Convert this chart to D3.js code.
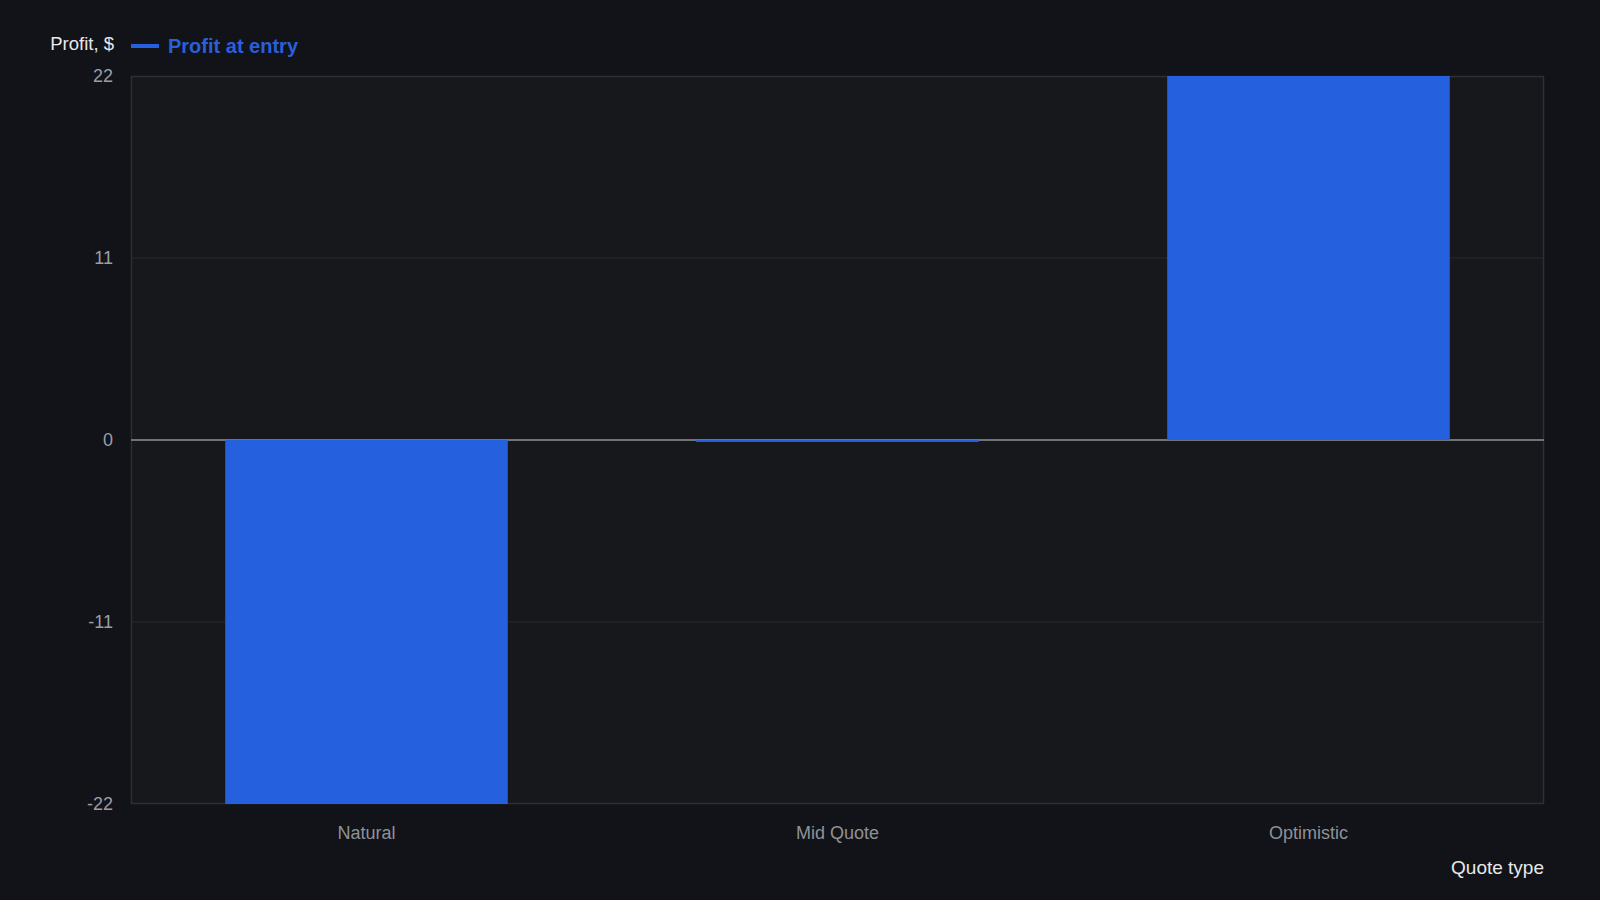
<!DOCTYPE html>
<html>
<head>
<meta charset="utf-8">
<script src="https://cdn.jsdelivr.net/npm/d3@7"></script>
<style>
  html, body { margin: 0; padding: 0; background: #111318; }
  svg { display: block; }
  text { font-family: "Liberation Sans", Arial, sans-serif; }
</style>
</head>
<body>
<svg id="chart" width="1600" height="900"></svg>
<script>
const categories = ["Natural", "Mid Quote", "Optimistic"];
const profitValues = [-22, -0.12, 22];
const yTickValues = [-22, -11, 0, 11, 22];
const seriesName = "Profit at entry";
const yAxisTitle = "Profit, $";
const xAxisTitle = "Quote type";

const W = 1600, H = 900;
const margin = { left: 131, right: 56, top: 76, bottom: 96 };
const svg = d3.select("#chart");

svg.append("rect").attr("width", W).attr("height", H).attr("fill", "#111318");

const x = d3.scaleBand()
  .domain(categories)
  .range([margin.left, W - margin.right])
  .paddingInner(0.4)
  .paddingOuter(0.2);

const y = d3.scaleLinear()
  .domain([-22, 22])
  .range([H - margin.bottom, margin.top]);

// plot background
svg.append("rect")
  .attr("x", margin.left).attr("y", margin.top)
  .attr("width", W - margin.left - margin.right)
  .attr("height", H - margin.top - margin.bottom)
  .attr("fill", "#17181c");

// gridlines
svg.append("g").selectAll("line")
  .data(yTickValues.filter(d => d !== 0 && Math.abs(d) !== 22))
  .join("line")
  .attr("x1", margin.left).attr("x2", W - margin.right)
  .attr("y1", d => y(d)).attr("y2", d => y(d))
  .attr("stroke", "#27282d").attr("stroke-width", 1);

// border
svg.append("rect")
  .attr("x", margin.left + 0.5).attr("y", margin.top + 0.5)
  .attr("width", W - margin.left - margin.right - 1)
  .attr("height", H - margin.top - margin.bottom - 1)
  .attr("fill", "none").attr("stroke", "#2e2f34").attr("stroke-width", 1.5);

// zero line
svg.append("line")
  .attr("x1", margin.left).attr("x2", W - margin.right)
  .attr("y1", y(0)).attr("y2", y(0))
  .attr("stroke", "#8e9096").attr("stroke-width", 1.5);

// bars
svg.append("g").selectAll("rect")
  .data(categories.map((c, i) => ({ c, v: profitValues[i] })))
  .join("rect")
  .attr("x", d => x(d.c))
  .attr("width", x.bandwidth())
  .attr("y", d => y(Math.max(0, d.v)))
  .attr("height", d => Math.max(2, Math.abs(y(d.v) - y(0))))
  .attr("fill", "#2560de");

// y axis
const yAxis = d3.axisLeft(y).tickValues(yTickValues).tickSize(0).tickPadding(0).tickFormat(d => String(d));
const gy = svg.append("g").attr("transform", `translate(${margin.left - 18},0)`).call(yAxis);
gy.select(".domain").remove();
gy.selectAll("text").attr("fill", "#9c9ea3").attr("font-size", 18).attr("dy", "0.32em");

// x axis
const xAxis = d3.axisBottom(x).tickSize(0).tickPadding(0);
const gx = svg.append("g").attr("transform", `translate(0,${H - margin.bottom + 22})`).call(xAxis);
gx.select(".domain").remove();
gx.selectAll("text").attr("fill", "#8f9196").attr("font-size", 18).attr("dy", "0.71em");

// y axis title
svg.append("text")
  .attr("x", 114).attr("y", 50)
  .attr("text-anchor", "end")
  .attr("fill", "#e8e8ea").attr("font-size", 18.5)
  .text(yAxisTitle);

// legend
svg.append("line")
  .attr("x1", 131).attr("x2", 159)
  .attr("y1", 46).attr("y2", 46)
  .attr("stroke", "#2560de").attr("stroke-width", 4);
svg.append("text")
  .attr("x", 168).attr("y", 53)
  .attr("fill", "#2a5fd8").attr("font-size", 20).attr("font-weight", "bold")
  .text(seriesName);

// x axis title
svg.append("text")
  .attr("x", W - margin.right).attr("y", 874)
  .attr("text-anchor", "end")
  .attr("fill", "#e8e8ea").attr("font-size", 19)
  .text(xAxisTitle);
</script>
</body>
</html>
